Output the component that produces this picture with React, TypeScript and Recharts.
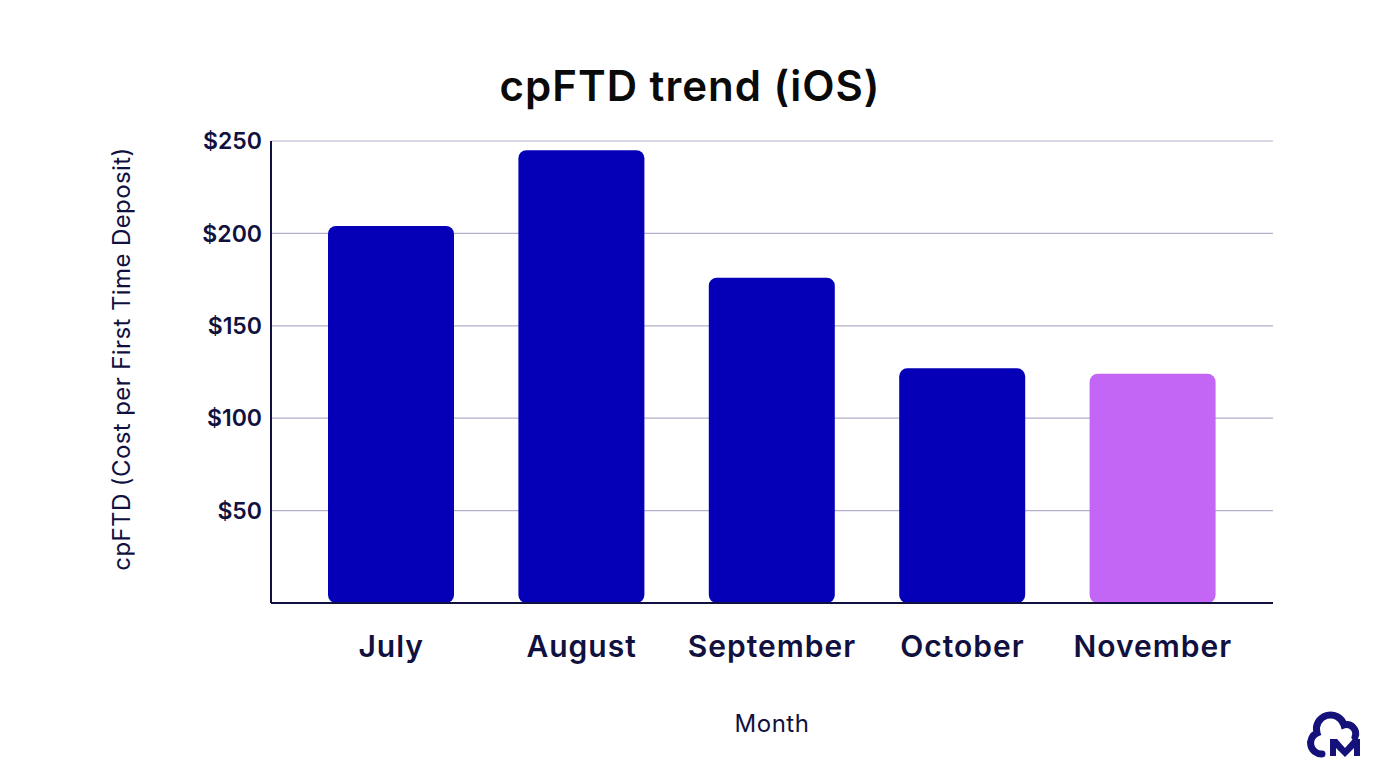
import React from 'react';
import { BarChart, Bar, XAxis, YAxis, CartesianGrid, Cell, Label } from 'recharts';

const months = ['July', 'August', 'September', 'October', 'November'];
const cpftd = [204, 245, 176, 127, 124];
const barColors = ['#0500b8', '#0500b8', '#0500b8', '#0500b8', '#c466f5'];
const yTicks = [0, 50, 100, 150, 200, 250];

const data = months.map((m, i) => ({ month: m, value: cpftd[i] }));

const FONT = 'Inter, "Open Sans", sans-serif';
const NAVY = '#11113f';

export default function App() {
  return (
    <div style={{ position: 'absolute', left: 0, top: 0, width: 1380, height: 780, background: '#ffffff', fontFamily: FONT }}>
      <div style={{ position: 'absolute', left: 0, top: 58, width: 1380, textAlign: 'center', fontSize: 42, fontWeight: 600, letterSpacing: 1, color: '#0a0a0a', lineHeight: '56px' }}>
        cpFTD trend (iOS)
      </div>
      <BarChart width={1380} height={780} data={data} margin={{ top: 141, right: 107, bottom: 77, left: 191 }}>
        <CartesianGrid vertical={false} stroke="#b3afca" strokeWidth={1.2} />
        <XAxis
          dataKey="month"
          padding={{ left: 25, right: 25 }}
          tickLine={false}
          tickSize={0}
          tickMargin={33}
          axisLine={{ stroke: NAVY, strokeWidth: 2 }}
          tick={{ fill: NAVY, fontSize: 30, fontWeight: 600, fontFamily: FONT, letterSpacing: 1 }}
          height={100}
        >
          <Label value="Month" position="insideBottom" offset={-29} fill={NAVY} fontSize={24} fontFamily={FONT} letterSpacing={0.5} />
        </XAxis>
        <YAxis
          domain={[0, 250]}
          ticks={yTicks}
          interval={0}
          tickLine={false}
          tickSize={0}
          tickMargin={9}
          width={80}
          axisLine={{ stroke: NAVY, strokeWidth: 2 }}
          tickFormatter={(v: number) => (v === 0 ? '' : `$${v}`)}
          tick={{ fill: NAVY, fontSize: 23, fontWeight: 600, fontFamily: FONT }}
        >
          <Label value="cpFTD (Cost per First Time Deposit)" angle={-90} position="insideLeft" offset={-70} dy={-13} style={{ textAnchor: 'middle' }} fill={NAVY} fontSize={24} fontFamily={FONT} letterSpacing={0.4} />
        </YAxis>
        <Bar dataKey="value" barSize={126} radius={[8, 8, 8, 8]} isAnimationActive={false}>
          {data.map((d, i) => (
            <Cell key={d.month} fill={barColors[i]} />
          ))}
        </Bar>
      </BarChart>
      <svg style={{ position: 'absolute', left: 1300, top: 705 }} width={70} height={60} viewBox="0 0 70 60">
        <path d="M 22 49 A 11 11 0 0 1 17 28 A 14 14 0 0 1 44 20 A 9 9 0 0 1 55 32" fill="none" stroke="#14127a" strokeWidth={7} strokeLinecap="round" />
        <path d="M 30 51 L 30 34 L 37 34 L 45 43 L 53 34 L 60 34 L 60 51 L 54 51 L 54 43 L 45 52 L 36 43 L 36 51 Z" fill="#14127a" />
      </svg>
    </div>
  );
}
